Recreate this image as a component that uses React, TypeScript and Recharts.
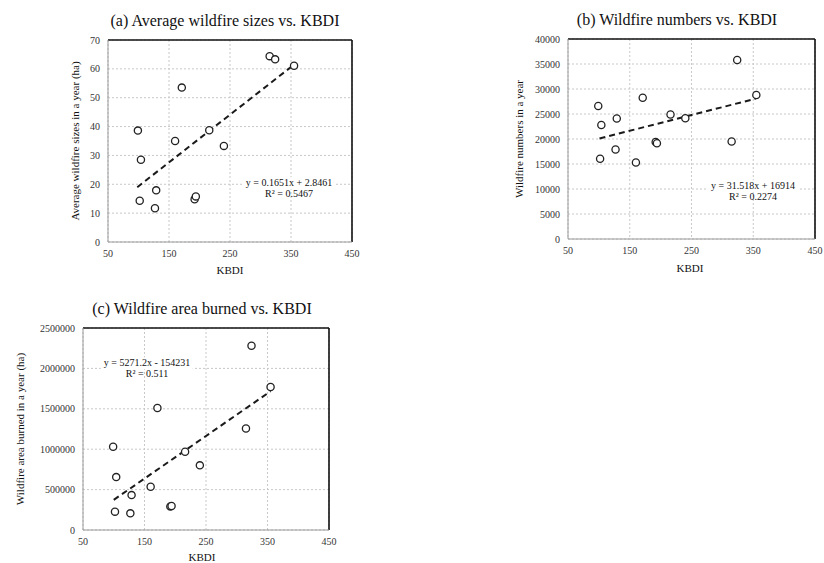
import React from "react";
import {
  CartesianGrid,
  ReferenceLine,
  Scatter,
  ScatterChart,
  XAxis,
  YAxis,
} from "recharts";

const kbdi = [99, 102, 104, 127, 129, 160, 171, 192, 194, 216, 240, 315, 324, 355];
const avgSizes = [38.6, 14.3, 28.5, 11.7, 17.9, 35.0, 53.5, 14.8, 15.8, 38.7, 33.3, 64.4, 63.3, 61.1];
const fireNumbers = [26600, 16050, 22800, 17900, 24100, 15300, 28250, 19400, 19150, 24900, 24150, 19500, 35800, 28800];
const areaBurned = [1030000, 227000, 655000, 206000, 432000, 535000, 1510000, 292000, 297000, 968000, 800000, 1256000, 2280000, 1770000];

const xTicks = [50, 150, 250, 350, 450];
const sizeTicks = [0, 10, 20, 30, 40, 50, 60, 70];
const numberTicks = [0, 5000, 10000, 15000, 20000, 25000, 30000, 35000, 40000];
const areaTicks = [0, 500000, 1000000, 1500000, 2000000, 2500000];

// trend line end points [x, y]
const sizeTrend = [[98, 19.0], [354, 61.3]];
const numberTrend = [[101, 20100], [354, 28070]];
const areaTrend = [[100, 373000], [355, 1717000]];

const FONT = "'Liberation Serif', serif";

type Box = { x0: number; x1: number; y0: number; y1: number };

const Circle = (p: any) => (
  <circle cx={p.cx} cy={p.cy} r={3.6} fill="#fff" stroke="#222" strokeWidth={1.3} />
);

function Label({ x, y, text, size, rotate, bg }: { x: number; y: number; text: string; size: number; rotate?: boolean; bg?: boolean }) {
  return (
    <div
      style={{
        position: "absolute",
        left: x,
        top: y,
        transform: `translate(-50%, -50%)${rotate ? " rotate(-90deg)" : ""}`,
        whiteSpace: "nowrap",
        fontFamily: FONT,
        fontSize: size,
        color: "#111",
        background: bg ? "#fff" : "transparent",
        lineHeight: 1.15,
        padding: bg ? "0 3px" : 0,
        textAlign: "center",
      }}
    >
      {text}
    </div>
  );
}

function Panel({
  box,
  xs,
  ys,
  yTicks,
  trend,
}: {
  box: Box;
  xs: number[];
  ys: number[];
  yTicks: number[];
  trend: number[][];
}) {
  const yAxisW = 70;
  const left = box.x0 - yAxisW;
  const top = box.y0 - 10;
  const width = box.x1 + 14 - left;
  const height = box.y1 + 24 - top;
  const data = xs.map((x, i) => ({ x, y: ys[i] }));
  const yMax = yTicks[yTicks.length - 1];
  const tickStyle = { fontSize: 10, fill: "#333" };
  return (
    <div style={{ position: "absolute", left, top }}>
      <ScatterChart
        width={width}
        height={height}
        margin={{ top: 10, right: 14, bottom: 0, left: 0 }}
      >
        <CartesianGrid stroke="#c8c8c8" strokeDasharray="2 2" />
        <XAxis
          type="number"
          dataKey="x"
          domain={[50, 450]}
          ticks={xTicks}
          interval={0}
          height={24}
          tickLine={false}
          axisLine={{ stroke: "#9a9a9a" }}
          tick={tickStyle}
        />
        <YAxis
          type="number"
          dataKey="y"
          domain={[0, yMax]}
          ticks={yTicks}
          interval={0}
          width={yAxisW}
          tickLine={false}
          axisLine={{ stroke: "#9a9a9a" }}
          tick={tickStyle}
        />
        <ReferenceLine y={yMax} stroke="#111" strokeWidth={1.6} />
        <ReferenceLine x={450} stroke="#111" strokeWidth={1.6} />
        <ReferenceLine
          segment={[
            { x: trend[0][0], y: trend[0][1] },
            { x: trend[1][0], y: trend[1][1] },
          ]}
          stroke="#1a1a1a"
          strokeWidth={2}
          strokeDasharray="6 4"
        />
        <Scatter data={data} shape={Circle} isAnimationActive={false} />
      </ScatterChart>
    </div>
  );
}

export default function App() {
  const boxA = { x0: 108, x1: 352, y0: 40, y1: 242 };
  const boxB = { x0: 568, x1: 815, y0: 39, y1: 239 };
  const boxC = { x0: 83, x1: 329, y0: 328, y1: 530 };
  return (
    <div
      style={{
        position: "absolute",
        left: 0,
        top: 0,
        width: 824,
        height: 563,
        overflow: "hidden",
        background: "#fff",
      }}
    >
      <style>{`.recharts-wrapper text { font-family: 'Liberation Serif', serif; }`}</style>
      <Panel box={boxA} xs={kbdi} ys={avgSizes} yTicks={sizeTicks} trend={sizeTrend} />
      <Panel box={boxB} xs={kbdi} ys={fireNumbers} yTicks={numberTicks} trend={numberTrend} />
      <Panel box={boxC} xs={kbdi} ys={areaBurned} yTicks={areaTicks} trend={areaTrend} />

      <Label x={225} y={21} text="(a) Average wildfire sizes vs. KBDI" size={16} />
      <Label x={75} y={141} text="Average wildfire sizes in a year (ha)" size={11} rotate />
      <Label x={230} y={270} text="KBDI" size={11} />
      <Label x={289} y={183} text="y = 0.1651x + 2.8461" size={10} bg />
      <Label x={289} y={194} text="R² = 0.5467" size={10} />

      <Label x={677} y={20} text="(b) Wildfire numbers vs. KBDI" size={16} />
      <Label x={519} y={139} text="Wildfire numbers in a year" size={11} rotate />
      <Label x={690} y={268} text="KBDI" size={11} />
      <Label x={753} y={186} text="y = 31.518x + 16914" size={10} bg />
      <Label x={753} y={197} text="R² = 0.2274" size={10} />

      <Label x={202} y={309} text="(c) Wildfire area burned vs. KBDI" size={16} />
      <Label x={20} y={429} text="Wildfire area burned in a year (ha)" size={11} rotate />
      <Label x={202} y={557} text="KBDI" size={11} />
      <Label x={147} y={363} text="y = 5271.2x - 154231" size={10} bg />
      <Label x={147} y={374} text="R² = 0.511" size={10} />
    </div>
  );
}
